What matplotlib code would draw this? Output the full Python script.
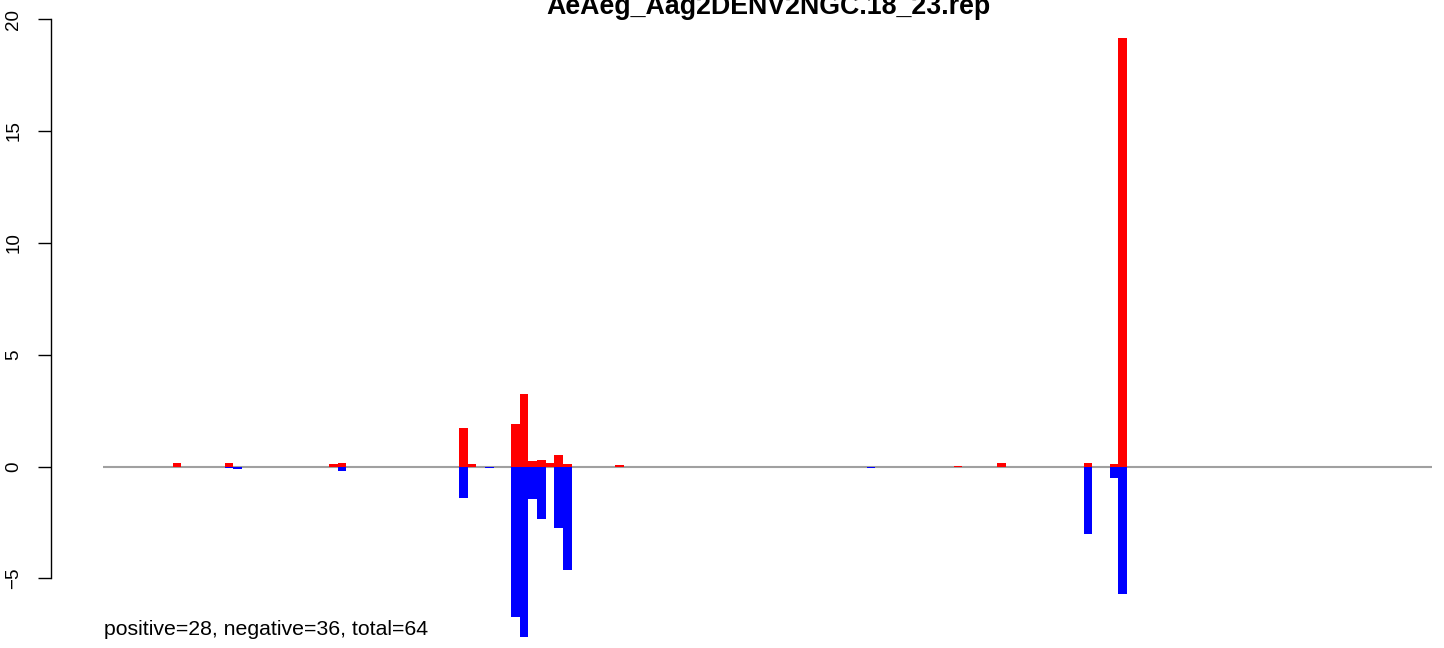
import matplotlib
matplotlib.use("Agg")
import matplotlib.pyplot as plt

# ---- data ----
title = "AeAeg_Aag2DENV2NGC.18_23.rep"
positions = [8, 14, 15, 26, 27, 41, 42, 44, 47, 48, 49, 50, 51, 52, 53, 59, 88, 98, 103, 113, 116, 117]
pos_vals = [0.16, 0.16, 0, 0.11, 0.16, 1.72, 0.11, 0, 1.90, 3.24, 0.25, 0.29, 0.17, 0.51, 0.11, 0.05,
            0, 0.04, 0.16, 0.15, 0.11, 19.13]
neg_vals = [0, -0.05, -0.10, 0, -0.20, -1.40, 0, -0.08, -6.72, -7.61, -1.44, -2.33, 0, -2.74, -4.62, 0,
            -0.05, 0, 0, -3.02, -0.50, -5.70]
region_length = 153.2
yticks = [-5, 0, 5, 10, 15, 20]
ytick_labels = ["\u22125", "0", "5", "10", "15", "20"]
summary = "positive=28, negative=36, total=64"

# ---- layout (pixels) ----
W, H = 1444, 648
x0_px, unit_px = 103.3, 8.676
y0_px, yunit_px = 466.5, 22.375
ax_left, ax_right, ax_top, ax_bottom = 51, 1437, 10, 648

plt.rcParams['font.family'] = ['Liberation Sans', 'DejaVu Sans']
fig = plt.figure(figsize=(W / 100, H / 100), dpi=100)
ax = fig.add_axes([ax_left / W, 1 - ax_bottom / H, (ax_right - ax_left) / W, (ax_bottom - ax_top) / H])
ax.set_xlim((ax_left - x0_px) / unit_px, (ax_right - x0_px) / unit_px)
ax.set_ylim((y0_px - ax_bottom) / yunit_px, (y0_px - ax_top) / yunit_px)

ax.hlines(0, 0, region_length, color="#A0A0A0", linewidth=1.5, zorder=1)
ax.bar(positions, pos_vals, width=1, align="edge", color="#FF0000", linewidth=0, zorder=2)
ax.bar(positions, neg_vals, width=1, align="edge", color="#0000FF", linewidth=0, zorder=2)

for s in ("top", "right", "bottom"):
    ax.spines[s].set_visible(False)
ax.spines["left"].set_bounds(-5, 20)
ax.spines["left"].set_linewidth(1.0)
ax.set_xticks([])
ax.set_yticks(yticks)
ax.set_yticklabels(ytick_labels, rotation=90, va="center", ha="right", fontsize=13.5)
ax.tick_params(axis="y", length=9.6, width=1.0, pad=11.0)

fig.text(768 / W, 1 - 14 / H, title, ha="center", va="baseline", fontsize=19.3, fontweight="bold")
fig.text(104 / W, 1 - 635 / H, summary, ha="left", va="baseline", fontsize=15.3)

fig.savefig("out.png", dpi=100)
